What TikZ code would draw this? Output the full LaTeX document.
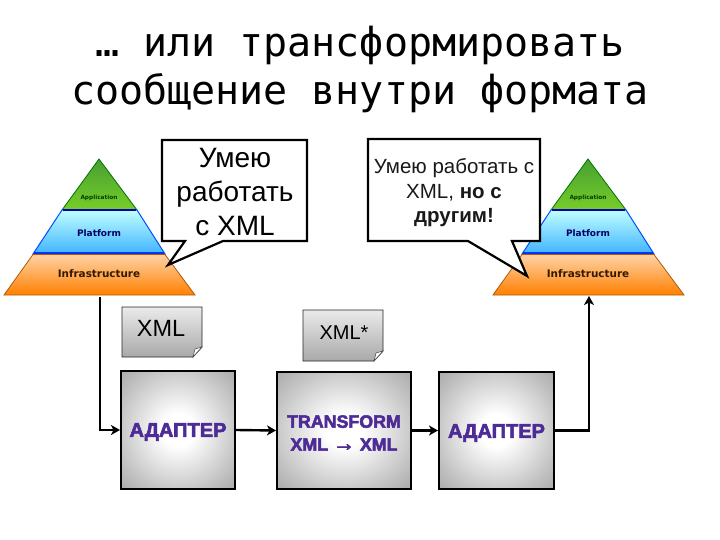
\documentclass[tikz,border=0pt]{standalone}
\usepackage{fontspec}
\usetikzlibrary{arrows.meta}
\setmainfont{Liberation Sans}
\newfontfamily\titlefont{DejaVu Sans Mono}
\newfontfamily\pyrfont{DejaVu Sans}
\newfontfamily\boxfont[UprightFont=* Bold,FakeBold=3]{Liberation Sans}
\definecolor{boxtext}{RGB}{78,44,150}
\definecolor{greentop}{RGB}{70,160,50}
\definecolor{greenbot}{RGB}{120,205,40}
\pgfdeclareradialshading{boxglow}{\pgfpoint{0bp}{0bp}}{%
  color(0bp)=(white); color(7bp)=(white); color(18bp)=(black!13);
  color(28bp)=(black!25); color(40bp)=(black!38); color(55bp)=(black!50); color(100bp)=(black!50)}
\tikzset{
  balloon/.style={draw=black, fill=white, line width=2.2pt, line join=miter},
  note/.style={draw=black!85, top color=black!8, bottom color=black!34, line width=0.8pt},
  adapterbox/.style={draw=black, line width=2pt, shading=boxglow, inner sep=0pt},
  boxlabel/.style={align=center, text=boxtext, inner sep=0pt, font=\boxfont\fontsize{20}{23}\selectfont},
  wire/.style={line width=2.4pt, -{Stealth[length=9pt,width=10pt,inset=2.5pt]}},
  pyrtext/.style={font=\pyrfont\bfseries, inner sep=0pt}
}
\begin{document}
\begin{tikzpicture}[x=1pt, y=-1pt]
  \newcommand{\PyramidAt}[2]{%
    \shadedraw[draw=green!45!black, line width=0.8pt, top color=greentop, bottom color=greenbot]
      (#1,159) -- (#1+38,210) -- (#1-37,210) -- cycle;
    \shadedraw[draw=blue!70!cyan, line width=1pt, top color=cyan!25!white, bottom color=cyan!60!blue!75]
      (#1-37,210) -- (#1+38,210) -- (#1+66,254) -- (#1-66,254) -- cycle;
    \draw[blue!70!black, line width=2pt] (#1-36,210) -- (#1+37,210);
    \draw[blue!80!cyan, line width=2.5pt] (#1-65,253) -- (#1+65,253);
    \shadedraw[draw=orange!70!black, line width=0.8pt, top color=orange!35!white, middle color=orange!80!yellow, bottom color=orange]
      (#1-66,254.5) -- (#1+66,254.5) -- (#1+96,295) -- (#1-95,295) -- cycle;
    \node[pyrtext, font=\pyrfont\bfseries\fontsize{5.8}{7}\selectfont, text=green!25!black] (app#2) at (#1,198) {Application};
    \node[pyrtext, font=\pyrfont\bfseries\fontsize{9}{11}\selectfont, text=blue!40!black] (plat#2) at (#1,233) {Platform};
    \node[pyrtext, font=\pyrfont\bfseries\fontsize{10.4}{12}\selectfont, text=black!80!orange] (infra#2) at (#1,274) {Infrastructure};
  }
  \useasboundingbox (0,0) rectangle (720,540);
  \node[font=\titlefont\fontsize{40}{48}\selectfont, anchor=base, inner sep=0pt] (titleA) at (360,57) {… или трансформировать};
  \node[font=\titlefont\fontsize{40}{48}\selectfont, anchor=base, inner sep=0pt] (titleB) at (360,105) {сообщение внутри формата};
  \PyramidAt{99}{L}
  \PyramidAt{588}{R}
  \draw[balloon] (162,140) -- (307,140) -- (307,241) -- (223,241) -- (168,265) -- (185,241) -- (162,241) -- cycle;
  \draw[balloon] (368,139) -- (540,139) -- (540,241) -- (512,241) -- (527,276) -- (468,241) -- (368,241) -- cycle;
  \node[align=center, inner sep=0pt, font=\fontsize{28}{34}\selectfont] (saysL) at (235,192) {Умею\\работать\\с XML};
  \node[align=center, inner sep=0pt, font=\fontsize{20.5}{24.5}\selectfont, text=black!90] (saysR) at (454,193) {Умею работать с\\XML, \textbf{но с}\\\textbf{другим!}};
  \shadedraw[note] (122,307) -- (202,307) -- (202,347) -- (193,357) -- (122,357) -- cycle;
  \filldraw[draw=black!70, fill=white, line width=0.6pt] (202,347) -- (193,357) -- (195,349) -- cycle;
  \node[inner sep=0pt, font=\fontsize{23.5}{28}\selectfont] (noteL) at (161,328) {XML};
  \shadedraw[note] (303,310) -- (383,310) -- (383,351) -- (374,361) -- (303,361) -- cycle;
  \filldraw[draw=black!70, fill=white, line width=0.6pt] (383,351) -- (374,361) -- (376,353) -- cycle;
  \node[inner sep=0pt, font=\fontsize{20}{24}\selectfont] (noteM) at (344,333) {XML*};
  \node[adapterbox, minimum width=114, minimum height=118] (adapterL) at (178,430) {};
  \node[adapterbox, minimum width=134, minimum height=117] (transform) at (344,430.5) {};
  \node[adapterbox, minimum width=115, minimum height=117] (adapterR) at (496.5,430.5) {};
  \node[boxlabel] (labelL) at (178,432) {АДАПТЕР};
  \node[boxlabel, font=\boxfont\fontsize{17.8}{23}\selectfont] (labelM) at (344,433) {TRANSFORM\\XML {\fontsize{22}{23}\selectfont→} XML};
  \node[boxlabel] (labelR) at (496.5,433) {АДАПТЕР};
  \coordinate (fromL) at (100,297);
  \coordinate (toR) at (589,296);
  \draw[wire] (fromL) |- (adapterL.west);
  \draw[wire] (adapterL.east) -- (transform.west);
  \draw[wire] (transform.east) -- (adapterR.west);
  \draw[wire] (adapterR.east) -| (toR);
\end{tikzpicture}
\end{document}
